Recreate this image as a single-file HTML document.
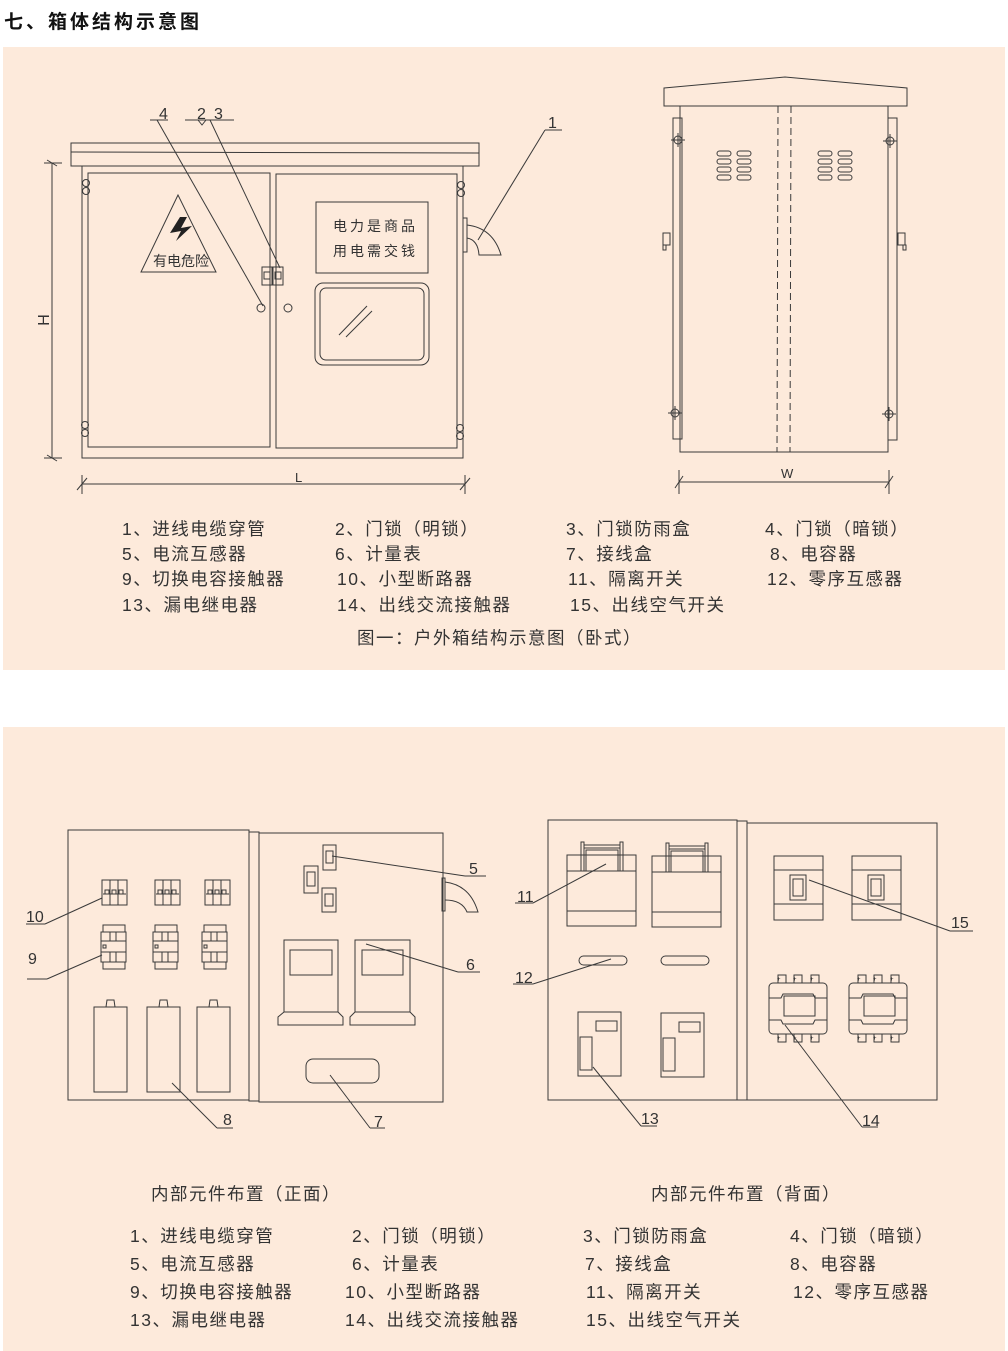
<!DOCTYPE html>
<html><head><meta charset="utf-8"><style>
html,body{margin:0;padding:0;background:#fff;width:1008px;height:1351px;overflow:hidden}
svg{display:block}
text{font-family:"Liberation Sans","Noto Sans CJK SC",sans-serif;fill:#333}
.l{font-size:17.5px;letter-spacing:1.5px}
.n{font-size:16px}
</style></head><body>
<svg width="1008" height="1351" viewBox="0 0 1008 1351" xmlns="http://www.w3.org/2000/svg">
<text x="4" y="28" style="font-size:19px;font-weight:bold;fill:#111;letter-spacing:3px">七、箱体结构示意图</text>
<rect x="3" y="47" width="1002" height="623" fill="#fdeadb"/>
<rect x="3" y="727" width="1002" height="624" fill="#fdeadb"/>
<g fill="none" stroke="#3a3a3a" stroke-width="1">
<!-- front cabinet -->
<rect x="71" y="143" width="408" height="23"/>
<line x1="71" y1="152" x2="479" y2="153"/>
<rect x="82" y="166" width="381" height="292"/>
<rect x="88" y="173" width="182" height="274"/>
<rect x="276" y="174" width="181" height="274"/>
<polygon points="178,195 141,272 216,272"/>
<rect x="316" y="202" width="112" height="71"/>
<rect x="315" y="283" width="114" height="82" rx="8"/>
<rect x="320" y="288" width="104" height="72" rx="6"/>
<line x1="339" y1="335" x2="367" y2="306"/><line x1="346" y1="337" x2="372" y2="311"/>
<rect x="262" y="267" width="10" height="18"/><rect x="273" y="267" width="10" height="18"/>
<rect x="264" y="272" width="6" height="7"/><rect x="275" y="272" width="6" height="7"/>
<circle cx="261" cy="308" r="4"/><circle cx="288" cy="308" r="4"/>
<circle cx="86" cy="183" r="3.5"/><circle cx="86" cy="191" r="3.5"/>
<circle cx="85" cy="425" r="3.5"/><circle cx="85" cy="433" r="3.5"/>
<circle cx="461" cy="185" r="3.5"/><circle cx="461" cy="193" r="3.5"/>
<circle cx="460" cy="428" r="3.5"/><circle cx="460" cy="436" r="3.5"/>
<rect x="463" y="218" width="4" height="34"/>
<path d="M467,225 Q493,228 501,255 L479,255 Q478,240 467,238"/>
<line x1="52" y1="163" x2="52" y2="458"/><line x1="44" y1="163" x2="62" y2="163"/><line x1="44" y1="458" x2="62" y2="458"/>
<line x1="47" y1="160" x2="57" y2="166"/><line x1="47" y1="455" x2="57" y2="461"/>
<line x1="82" y1="484" x2="465" y2="484"/><line x1="82" y1="475" x2="82" y2="494"/><line x1="465" y1="475" x2="465" y2="494"/>
<line x1="77" y1="490" x2="87" y2="478"/><line x1="460" y1="490" x2="470" y2="478"/>
<line x1="150" y1="120" x2="168" y2="120"/><line x1="157" y1="120" x2="263" y2="306"/>
<line x1="185" y1="120" x2="234" y2="120"/><path d="M198,120 L202,125 L206,120"/>
<line x1="210" y1="120" x2="280" y2="268"/>
<line x1="545" y1="130" x2="562" y2="130"/><line x1="545" y1="130" x2="478" y2="240"/>
<!-- side view -->
<polygon points="664,88 785,77 907,88 907,106 664,106"/>
<rect x="680" y="106" width="208" height="346"/>
<rect x="673" y="118" width="9" height="321"/><rect x="888" y="118" width="9" height="322"/>
<line x1="778" y1="106" x2="777" y2="452" stroke-dasharray="7,4"/>
<line x1="791" y1="106" x2="790" y2="452" stroke-dasharray="7,4"/>
<g id="vent"><rect x="717" y="151" width="14" height="5" rx="2.5"/><rect x="737" y="151" width="14" height="5" rx="2.5"/><rect x="717" y="159" width="14" height="5" rx="2.5"/><rect x="737" y="159" width="14" height="5" rx="2.5"/><rect x="717" y="167" width="14" height="5" rx="2.5"/><rect x="737" y="167" width="14" height="5" rx="2.5"/><rect x="717" y="175" width="14" height="5" rx="2.5"/><rect x="737" y="175" width="14" height="5" rx="2.5"/></g>
<use href="#vent" x="101"/>
<circle cx="678" cy="140" r="4"/><line x1="671" y1="140" x2="685" y2="140"/><line x1="678" y1="133" x2="678" y2="147"/>
<circle cx="890" cy="141" r="4"/><line x1="883" y1="141" x2="897" y2="141"/><line x1="890" y1="134" x2="890" y2="148"/>
<circle cx="675" cy="413" r="4"/><line x1="668" y1="413" x2="682" y2="413"/><line x1="675" y1="406" x2="675" y2="420"/>
<circle cx="889" cy="414" r="4"/><line x1="882" y1="414" x2="896" y2="414"/><line x1="889" y1="407" x2="889" y2="421"/>
<rect x="663" y="233" width="7" height="12"/><rect x="663" y="245" width="3" height="5"/>
<rect x="898" y="233" width="7" height="12"/><rect x="903" y="245" width="3" height="5"/>
<line x1="679" y1="482" x2="889" y2="482"/><line x1="679" y1="470" x2="679" y2="494"/><line x1="889" y1="470" x2="889" y2="494"/>
<line x1="675" y1="488" x2="683" y2="476"/><line x1="885" y1="488" x2="893" y2="476"/>
<!-- front internal -->
<rect x="68" y="830" width="181" height="270"/>
<rect x="249" y="832" width="10" height="269"/>
<rect x="259" y="833" width="184" height="269"/>
<g id="brk"><rect x="102" y="880" width="25" height="25"/><line x1="110" y1="880" x2="110" y2="905"/><line x1="118" y1="880" x2="118" y2="905"/><line x1="103" y1="894" x2="126" y2="894"/><rect x="105" y="890" width="4" height="4"/><rect x="112" y="890" width="4" height="4"/><rect x="119" y="890" width="4" height="4"/></g>
<use href="#brk" x="53"/><use href="#brk" x="103"/>
<g id="cnt"><rect x="101" y="932" width="25" height="30"/><line x1="101" y1="941" x2="126" y2="941"/><line x1="101" y1="952" x2="126" y2="952"/><rect x="103" y="925" width="22" height="7"/><rect x="103" y="962" width="22" height="7"/><rect x="103" y="945" width="3" height="3"/><line x1="110" y1="932" x2="110" y2="941"/><line x1="116" y1="932" x2="116" y2="941"/><line x1="110" y1="952" x2="110" y2="962"/><line x1="116" y1="952" x2="116" y2="962"/></g>
<use href="#cnt" x="52"/><use href="#cnt" x="101"/>
<g id="cap"><rect x="94" y="1007" width="33" height="85"/><path d="M106,1007 L107,1000 L114,1000 L115,1007"/></g>
<use href="#cap" x="53"/><use href="#cap" x="103"/>
<rect x="323" y="845" width="13" height="25"/><rect x="326" y="851" width="7" height="12"/>
<rect x="304" y="866" width="14" height="27"/><rect x="307" y="872" width="8" height="14"/>
<rect x="322" y="888" width="14" height="24"/><rect x="325" y="894" width="8" height="12"/>
<rect x="284" y="940" width="54" height="72"/><rect x="290" y="950" width="42" height="25"/><path d="M284,1012 L278,1017 L278,1025 L343,1025 L343,1017 L338,1012"/>
<rect x="355" y="940" width="55" height="72"/><rect x="362" y="950" width="41" height="25"/><path d="M355,1012 L350,1017 L350,1025 L415,1025 L415,1017 L410,1012"/>
<rect x="306" y="1059" width="73" height="24" rx="7"/>
<rect x="442" y="878" width="3" height="33"/><path d="M445,882 Q470,885 478,912 L467,912 Q462,900 445,900"/>
<line x1="26" y1="924" x2="45" y2="924"/><line x1="45" y1="924" x2="102" y2="898"/>
<line x1="27" y1="979" x2="47" y2="979"/><line x1="47" y1="979" x2="102" y2="955"/>
<line x1="217" y1="1128" x2="233" y2="1128"/><line x1="217" y1="1128" x2="172" y2="1083"/>
<line x1="370" y1="1128" x2="385" y2="1128"/><line x1="370" y1="1128" x2="330" y2="1075"/>
<line x1="465" y1="876" x2="486" y2="876"/><line x1="465" y1="876" x2="332" y2="856"/>
<line x1="458" y1="972" x2="480" y2="972"/><line x1="458" y1="972" x2="366" y2="944"/>
<!-- back internal -->
<rect x="548" y="820" width="189" height="280"/>
<rect x="737" y="821" width="10" height="279"/>
<rect x="747" y="823" width="190" height="277"/>
<g id="iso"><rect x="567" y="855" width="69" height="71"/><line x1="567" y1="911" x2="636" y2="911"/><rect x="581" y="842" width="3" height="29"/><rect x="620" y="842" width="3" height="29"/><line x1="584" y1="845" x2="620" y2="845"/><line x1="584" y1="848" x2="620" y2="848"/><rect x="586" y="850" width="32" height="21"/><line x1="567" y1="871" x2="636" y2="871"/></g>
<use href="#iso" x="85" y="1"/>
<rect x="579" y="956" width="48" height="9" rx="4.5"/><rect x="661" y="956" width="48" height="9" rx="4.5"/>
<g id="rcd"><rect x="578" y="1012" width="43" height="64"/><rect x="596" y="1021" width="21" height="10"/><rect x="580" y="1037" width="12" height="33"/></g>
<use href="#rcd" x="83" y="1"/>
<g id="mcb"><rect x="774" y="856" width="49" height="64"/><line x1="774" y1="870" x2="823" y2="870"/><line x1="774" y1="904" x2="823" y2="904"/><rect x="790" y="875" width="16" height="25"/><rect x="793" y="879" width="10" height="17"/></g>
<use href="#mcb" x="78"/>
<g id="ac"><rect x="769" y="983" width="58" height="51" rx="4"/><path d="M769,998 L781,998 L783,994 L813,994 L815,998 L827,998"/><path d="M769,1020 L781,1020 L783,1024 L813,1024 L815,1020 L827,1020"/><rect x="784" y="996" width="31" height="20"/><rect x="778" y="975" width="8" height="8"/><rect x="794" y="975" width="8" height="8"/><rect x="811" y="975" width="8" height="8"/><rect x="778" y="1034" width="8" height="8"/><rect x="794" y="1034" width="8" height="8"/><rect x="811" y="1034" width="8" height="8"/></g>
<use href="#ac" x="80"/>
<line x1="515" y1="903" x2="533" y2="903"/><line x1="533" y1="903" x2="606" y2="864"/>
<line x1="513" y1="984" x2="533" y2="984"/><line x1="533" y1="984" x2="611" y2="959"/>
<line x1="641" y1="1126" x2="657" y2="1126"/><line x1="641" y1="1126" x2="593" y2="1067"/>
<line x1="862" y1="1127" x2="878" y2="1127"/><line x1="862" y1="1127" x2="785" y2="1025"/>
<line x1="950" y1="931" x2="973" y2="931"/><line x1="950" y1="931" x2="809" y2="880"/>
</g>
<path d="M180,217 L170,233 L181,231 L176,241 L192,226 L181,228 L187,217 Z" fill="#222"/>
<g font-size="6">
<text x="777" y="981">+</text><text x="793" y="981">+</text><text x="810" y="981">+</text><text x="777" y="1040">+</text><text x="793" y="1040">+</text><text x="810" y="1040">+</text><text x="857" y="981">+</text><text x="873" y="981">+</text><text x="890" y="981">+</text><text x="857" y="1040">+</text><text x="873" y="1040">+</text><text x="890" y="1040">+</text>
</g>
<text x="153" y="266" style="font-size:14px">有电危险</text>
<text x="333" y="231" style="font-size:14px;letter-spacing:3px">电力是商品</text>
<text x="333" y="256" style="font-size:14px;letter-spacing:3px">用电需交钱</text>
<text class="n" x="159" y="119">4</text><text class="n" x="197" y="119">2</text><text class="n" x="214" y="119">3</text>
<text class="n" x="548" y="128">1</text>
<text class="n" x="0" y="0" transform="translate(49,320) rotate(-90)" text-anchor="middle">H</text>
<text class="n" x="295" y="482" style="font-size:13px">L</text>
<text class="n" x="781" y="478" style="font-size:13px">W</text>
<text class="n" x="26" y="922">10</text><text class="n" x="28" y="964">9</text>
<text class="n" x="223" y="1125">8</text><text class="n" x="374" y="1127">7</text>
<text class="n" x="469" y="874">5</text><text class="n" x="466" y="970">6</text>
<text class="n" x="517" y="902">11</text><text class="n" x="515" y="983">12</text>
<text class="n" x="641" y="1124">13</text><text class="n" x="862" y="1126">14</text><text class="n" x="951" y="928">15</text>
<text class="l" x="122" y="535">1、进线电缆穿管</text><text class="l" x="335" y="535">2、门锁（明锁）</text><text class="l" x="566" y="535">3、门锁防雨盒</text><text class="l" x="765" y="535">4、门锁（暗锁）</text>
<text class="l" x="122" y="560">5、电流互感器</text><text class="l" x="335" y="560">6、计量表</text><text class="l" x="566" y="560">7、接线盒</text><text class="l" x="770" y="560">8、电容器</text>
<text class="l" x="122" y="585">9、切换电容接触器</text><text class="l" x="337" y="585">10、小型断路器</text><text class="l" x="568" y="585">11、隔离开关</text><text class="l" x="767" y="585">12、零序互感器</text>
<text class="l" x="122" y="611">13、漏电继电器</text><text class="l" x="337" y="611">14、出线交流接触器</text><text class="l" x="570" y="611">15、出线空气开关</text>
<text class="l" x="357" y="644">图一：户外箱结构示意图（卧式）</text>
<text class="l" x="151" y="1200">内部元件布置（正面）</text>
<text class="l" x="651" y="1200">内部元件布置（背面）</text>
<text class="l" x="130" y="1242">1、进线电缆穿管</text><text class="l" x="352" y="1242">2、门锁（明锁）</text><text class="l" x="583" y="1242">3、门锁防雨盒</text><text class="l" x="790" y="1242">4、门锁（暗锁）</text>
<text class="l" x="130" y="1270">5、电流互感器</text><text class="l" x="352" y="1270">6、计量表</text><text class="l" x="585" y="1270">7、接线盒</text><text class="l" x="790" y="1270">8、电容器</text>
<text class="l" x="130" y="1298">9、切换电容接触器</text><text class="l" x="345" y="1298">10、小型断路器</text><text class="l" x="586" y="1298">11、隔离开关</text><text class="l" x="793" y="1298">12、零序互感器</text>
<text class="l" x="130" y="1326">13、漏电继电器</text><text class="l" x="345" y="1326">14、出线交流接触器</text><text class="l" x="586" y="1326">15、出线空气开关</text>
</svg>
</body></html>
